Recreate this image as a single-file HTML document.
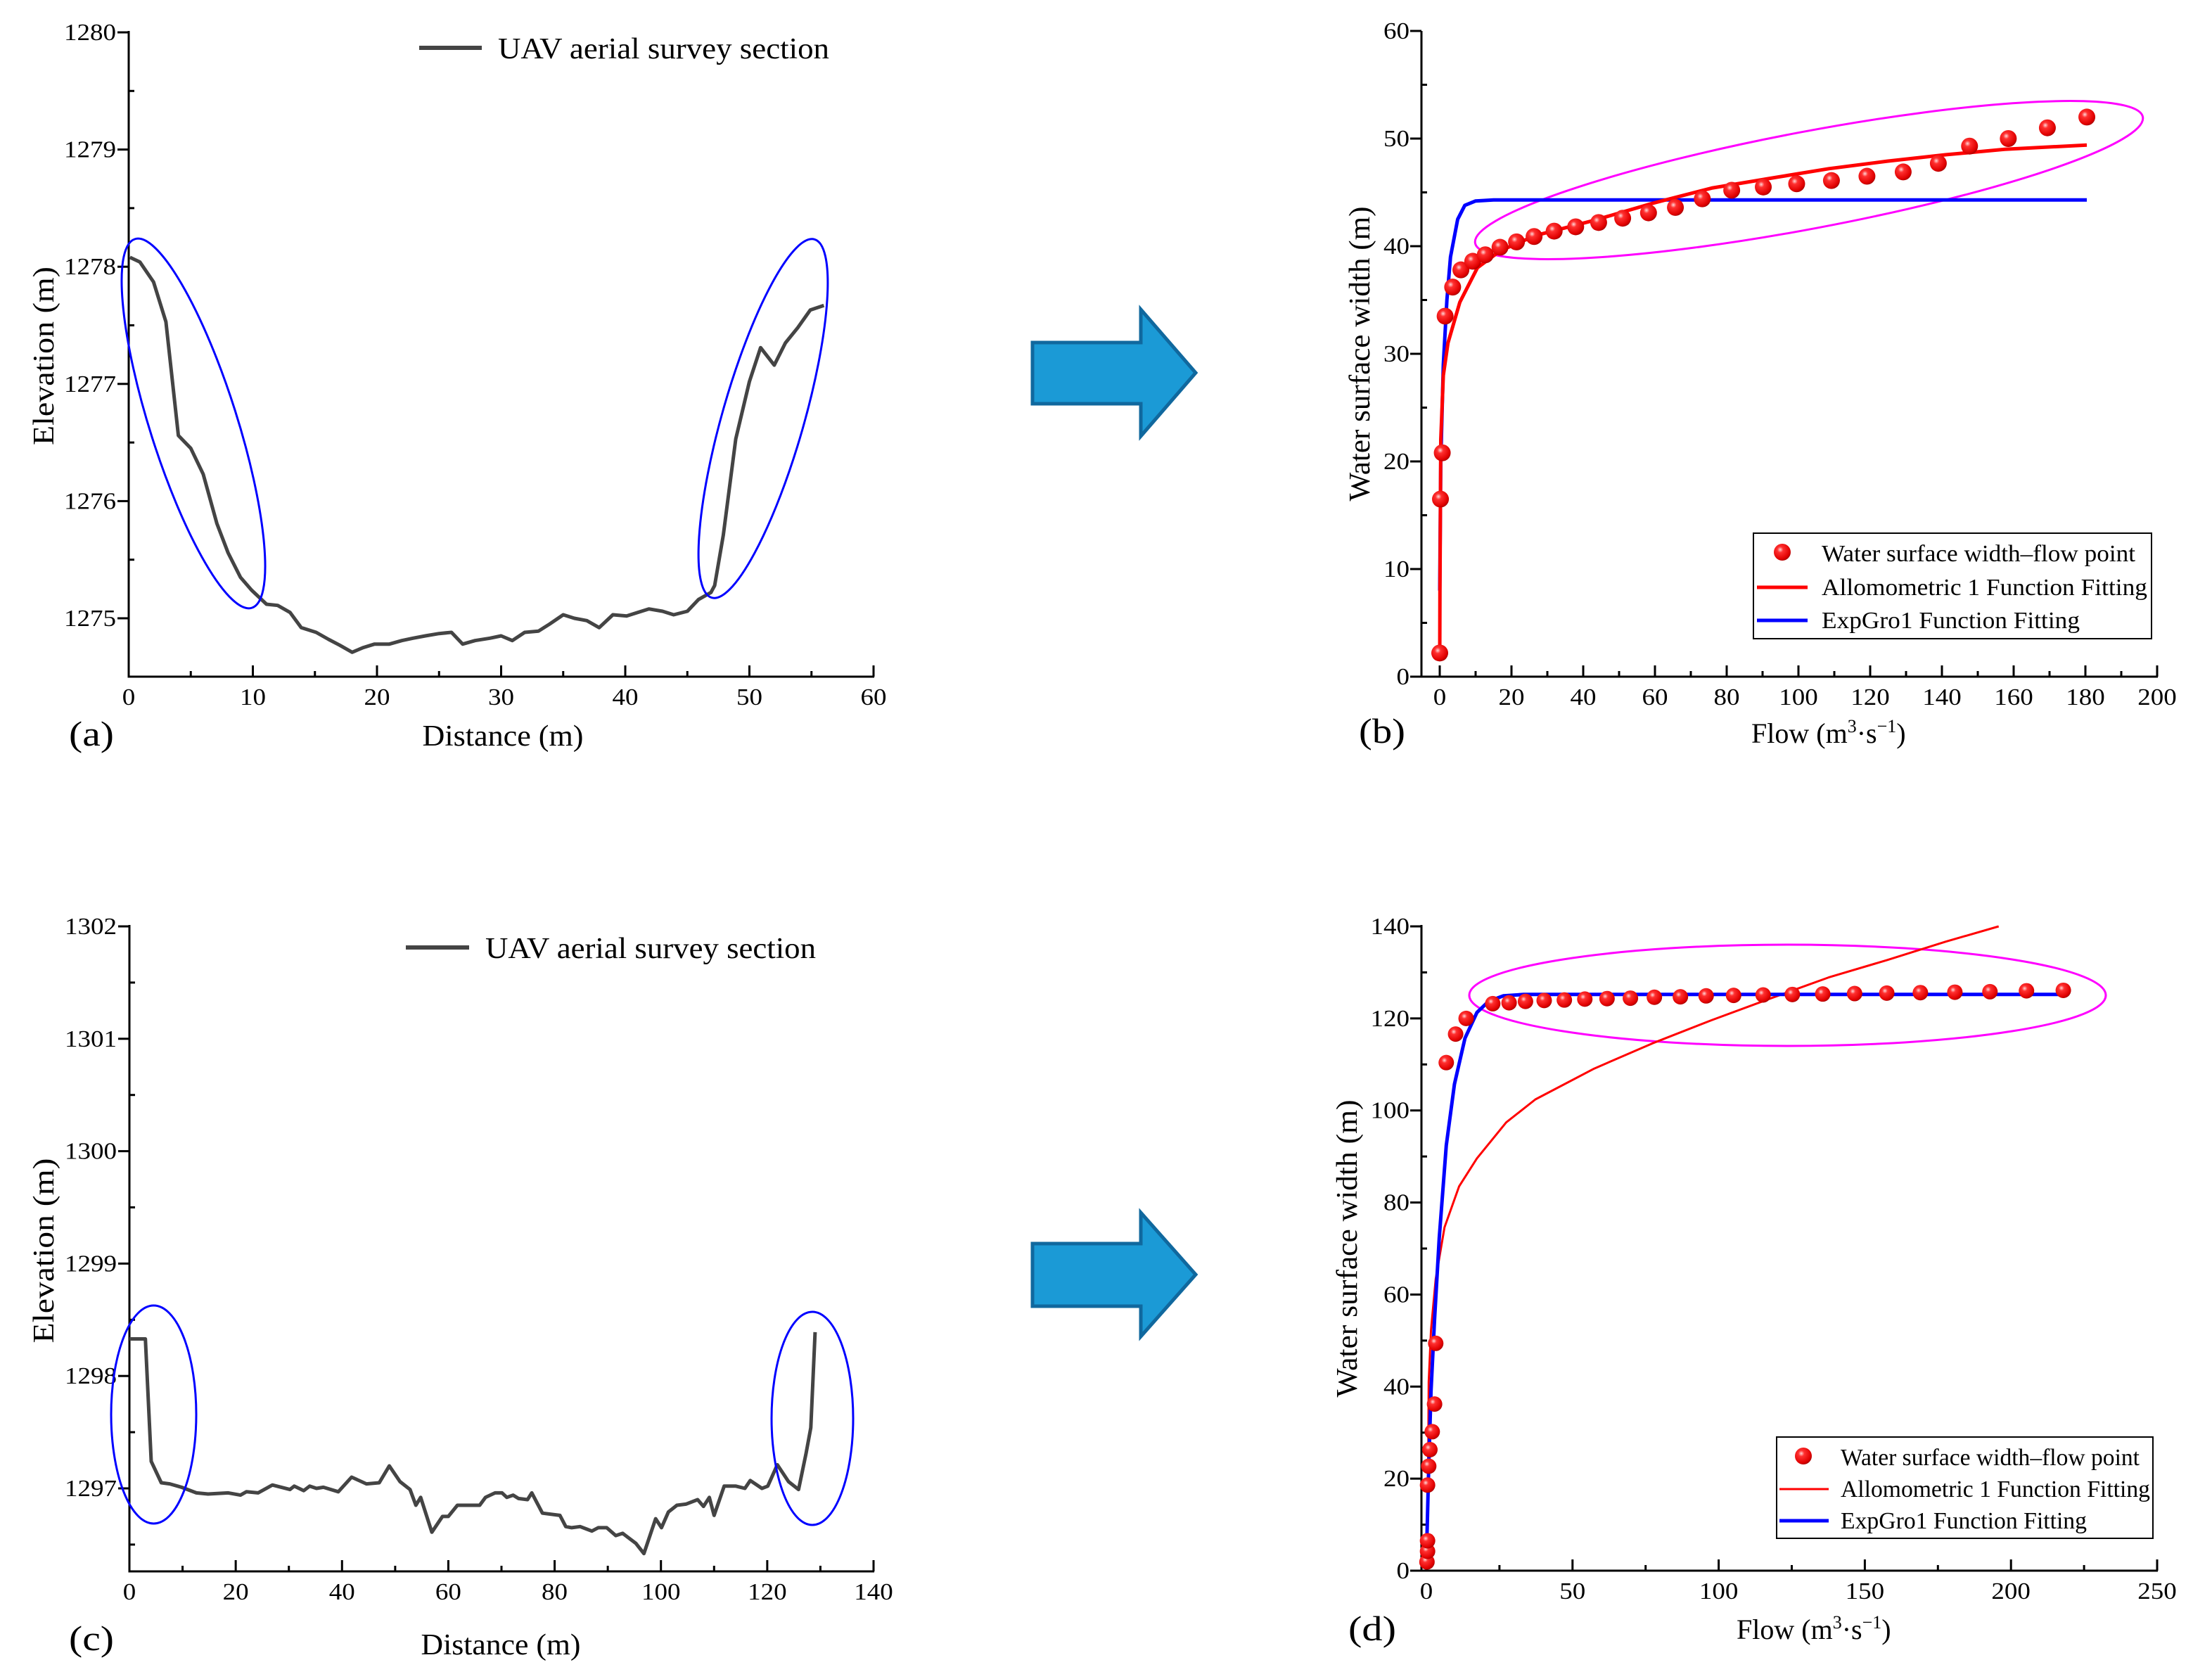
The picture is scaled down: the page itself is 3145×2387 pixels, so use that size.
<!DOCTYPE html>
<html><head><meta charset="utf-8">
<style>
html,body{margin:0;padding:0;background:#fff;}
svg{display:block;}
svg text{font-family:"Liberation Serif","Times New Roman",serif;fill:#000;}
</style></head>
<body>
<svg id="fig" width="3145" height="2387" viewBox="0 0 3145 2387" font-family="Liberation Serif, serif" xmlns="http://www.w3.org/2000/svg">
<defs>
<radialGradient id="ball" cx="0.38" cy="0.35" r="0.7">
<stop offset="0" stop-color="#ffd6d6"/>
<stop offset="0.25" stop-color="#ff3030"/>
<stop offset="0.8" stop-color="#e00000"/>
<stop offset="1" stop-color="#a00000"/>
</radialGradient>
</defs>
<g id="arrows">
<path d="M1468,487 L1622,487 L1622,440 L1700,530 L1622,620 L1622,574 L1468,574 Z" fill="#1b9ad6" stroke="#10689e" stroke-width="5" stroke-linejoin="miter"/>
<path d="M1468,1768 L1622,1768 L1622,1724 L1700,1812 L1622,1900 L1622,1857 L1468,1857 Z" fill="#1b9ad6" stroke="#10689e" stroke-width="5"/>
</g>
<g id="charts"></g>
</svg>
<script>
// ---------- Panel (a) data ----------
const aDist = [0.1,0.9,2,3,4,5,6,7.1,8,9,9.9,11.1,12,13,13.9,15.1,16.1,17,18,18.9,19.8,21,22,22.9,23.9,25,26,26.9,27.9,29.1,30,30.9,31.9,33,33.9,35,35.9,36.9,37.9,39,40.1,41,41.9,43,43.9,45,45.9,46.9,47.2,47.9,48.9,50,50.9,52,52.9,53.9,54.9,56];
const aElev = [1278.08,1278.04,1277.87,1277.53,1276.56,1276.45,1276.23,1275.81,1275.56,1275.35,1275.24,1275.12,1275.11,1275.05,1274.92,1274.88,1274.82,1274.77,1274.71,1274.75,1274.78,1274.78,1274.81,1274.83,1274.85,1274.87,1274.88,1274.78,1274.81,1274.83,1274.85,1274.81,1274.88,1274.89,1274.95,1275.03,1275.0,1274.98,1274.92,1275.03,1275.02,1275.05,1275.08,1275.06,1275.03,1275.06,1275.16,1275.22,1275.28,1275.71,1276.53,1277.02,1277.31,1277.16,1277.35,1277.48,1277.63,1277.67];
const aXTicks = [0,10,20,30,40,50,60];
const aYTicks = [1275,1276,1277,1278,1279,1280];

// ---------- Panel (b) data ----------
const bFlow = [0,0.2,0.7,1.5,3.6,5.9,9.2,12.7,16.8,21.4,26.3,31.9,37.9,44.3,51,58.2,65.7,73.2,81.4,90.2,99.5,109.2,119.1,129.2,139,147.7,158.5,169.4,180.4];
const bWidth = [2.2,16.5,20.8,33.5,36.2,37.8,38.6,39.2,39.9,40.4,40.9,41.4,41.8,42.2,42.6,43.1,43.6,44.4,45.2,45.5,45.8,46.1,46.5,46.9,47.7,49.3,50.0,51.0,52.0];
const bAlloX = [0,0.05,0.3,1,2.3,5.6,10.5,17,26.8,43,59.5,75.8,92,108.5,124.8,141,157.5,180.4];
const bAlloY = [1.5,8,22,28,31,34.8,38,39.6,41,42.4,44,45.4,46.3,47.2,47.9,48.5,49,49.4];
const bExpX = [0,0.3,1,2,3,5,7,10,15,180.4];
const bExpY = [8,20,29,35,39,42.5,43.8,44.2,44.3,44.3];
const bXTicks = [0,20,40,60,80,100,120,140,160,180,200];
const bYTicks = [0,10,20,30,40,50,60];

// ---------- Panel (c) data ----------
const cDist = [0,3,4.1,6,7.6,9.8,12.6,14.8,18.6,20.9,22,24.2,26.9,30.2,31,32.8,33.9,35.2,36.5,39.3,41.8,44.6,47,48.9,50.9,52.8,53.9,54.8,56.9,58.9,60,61.7,65.9,67,68.8,70.1,71,72.2,73.2,74.9,75.7,77.7,81,82.1,83.2,84.8,85.9,87,88.2,89.8,91.5,92.8,95.3,96.8,99,100.1,101.4,103,104.7,106.9,108,109.1,110,111.9,114.1,115.8,116.8,119,120.1,121.9,124,125.9,127.3,128.2,129];
const cElev = [1298.33,1298.33,1297.24,1297.05,1297.04,1297.01,1296.96,1296.95,1296.96,1296.94,1296.97,1296.96,1297.03,1296.99,1297.02,1296.98,1297.02,1297.0,1297.01,1296.97,1297.1,1297.04,1297.05,1297.2,1297.06,1296.99,1296.85,1296.92,1296.61,1296.75,1296.75,1296.85,1296.85,1296.92,1296.96,1296.96,1296.92,1296.94,1296.91,1296.9,1296.96,1296.78,1296.76,1296.66,1296.65,1296.66,1296.64,1296.62,1296.65,1296.65,1296.58,1296.6,1296.51,1296.42,1296.73,1296.65,1296.79,1296.85,1296.86,1296.9,1296.84,1296.92,1296.76,1297.02,1297.02,1297.0,1297.07,1297.0,1297.02,1297.21,1297.06,1296.99,1297.31,1297.54,1298.39];
const cXTicks = [0,20,40,60,80,100,120,140];
const cYTicks = [1297,1298,1299,1300,1301,1302];

// ---------- Panel (d) data ----------
const dFlow = [0.2,0.4,0.4,0.4,0.8,1.2,2,2.8,3.2,6.8,10,13.6,22.7,28.3,33.9,40.3,47.2,54.2,61.8,69.8,78,86.9,95.7,105.1,115.2,125.2,135.6,146.5,157.5,169,180.8,192.8,205.3,217.9];
const dWidth = [1.9,4.2,6.5,18.6,22.7,26.3,30.2,36.2,49.4,110.4,116.6,120,123.2,123.4,123.7,123.9,124,124.2,124.3,124.4,124.6,124.7,124.9,125,125.1,125.2,125.3,125.4,125.5,125.6,125.7,125.8,126,126.1];
const dAlloX = [0.4,0.8,1.6,3.2,6.2,11.2,17.3,27.3,37.3,57.4,77.4,97.5,117.6,137.6,157.7,177.8,195.8];
const dAlloY = [1,41,52.3,63.4,74.6,83.5,89.6,97.4,102.4,109.1,114.6,119.6,124.3,128.9,132.7,136.7,140];
const dExpX = [0,0.8,1.6,2.8,4.4,6.8,9.6,13.2,17.3,21.3,26.3,33.3,217.9];
const dExpY = [2.2,22.3,39,54.5,72.3,92.4,105.7,115.7,121.3,123.7,124.9,125.2,125.2];
const dXTicks = [0,50,100,150,200,250];
const dYTicks = [0,20,40,60,80,100,120,140];

const NS = "http://www.w3.org/2000/svg";
const FONT = '"Liberation Serif", "Times New Roman", serif';
const root = document.getElementById('charts');
function mk(tag, attrs, parent){
  const e = document.createElementNS(NS, tag);
  for (const k in attrs) e.setAttribute(k, attrs[k]);
  if (tag === 'text') e.style.fontFamily = FONT;
  (parent||root).appendChild(e);
  return e;
}
function scale(d0,d1,p0,p1){ return v => p0 + (v-d0)*(p1-p0)/(d1-d0); }
function pathOf(xs, ys, sx, sy){
  let d='';
  for (let i=0;i<xs.length;i++) d += (i?'L':'M') + sx(xs[i]).toFixed(1) + ',' + sy(ys[i]).toFixed(1);
  return d;
}

function axes(g, c){
  const ax = mk('line',{x1:c.left,y1:c.bottom,x2:c.right,y2:c.bottom,stroke:'#000','stroke-width':3},g);
  
  
  const ay = mk('line',{x1:c.left,y1:c.bottom+1.5,x2:c.left,y2:c.top,stroke:'#000','stroke-width':3},g);
  
  
  c.xTicks.forEach(v=>{
    const x=c.sx(v);
    mk('line',{x1:x,y1:c.bottom,x2:x,y2:c.bottom-16,stroke:'#000','stroke-width':3},g);
    const t = mk('text',{x:x,y:c.bottom+40,'text-anchor':'middle','font-size':34,textLength:String(v).length*18.5,lengthAdjust:'spacingAndGlyphs'},g);
    t.textContent = v;
    
    
  });
  c.xMinor.forEach(v=>{
    const x=c.sx(v);
    mk('line',{x1:x,y1:c.bottom,x2:x,y2:c.bottom-8,stroke:'#000','stroke-width':3},g);
  });
  c.yTicks.forEach(v=>{
    const y=c.sy(v);
    mk('line',{x1:c.left,y1:y,x2:c.left-16,y2:y,stroke:'#000','stroke-width':3},g);
    const t = mk('text',{x:c.left-c.lblGap,y:y+11,'text-anchor':'end','font-size':34,textLength:String(v).length*18.5,lengthAdjust:'spacingAndGlyphs'},g);
    t.textContent = v;
    
    
  });
  c.yMinor.forEach(v=>{
    const y=c.sy(v);
    mk('line',{x1:c.left,y1:y,x2:c.left+8,y2:y,stroke:'#000','stroke-width':3},g);
  });
}
function text(g, s, attrs, name){
  const t = mk('text', attrs, g);
  t.textContent = s;
  
  
  return t;
}
function flowTitle(g, cx, y, w){
  const t = mk('text',{x:cx-w/2,y:y,'font-size':40},g);
  
  
  t.appendChild(document.createTextNode('Flow (m'));
  const s1 = mk('tspan',{dy:-15,'font-size':26},t); s1.textContent='3';
  const s2 = mk('tspan',{dy:15},t); s2.textContent='·s';
  const s3 = mk('tspan',{dy:-15,'font-size':26},t); s3.textContent='−1';
  const s4 = mk('tspan',{dy:15},t); s4.textContent=')';
}
function legendBox(g, x0,y0,x1,y1, mx, lx0, lx1, tx, bl, widths, allWidth){
  const box = mk('rect',{x:x0,y:y0,width:x1-x0,height:y1-y0,fill:'#fff',stroke:'#000','stroke-width':2},g);
  
  
  const m = mk('circle',{cx:mx,cy:bl[0]-13,r:12,fill:'url(#ball)'},g);
  
  
  const l1 = mk('line',{x1:lx0,y1:bl[1]-11,x2:lx1,y2:bl[1]-11,stroke:'#ff0000','stroke-width':allWidth},g);
  
  
  const l2 = mk('line',{x1:lx0,y1:bl[2]-11,x2:lx1,y2:bl[2]-11,stroke:'#0000ff','stroke-width':5},g);
  
  
  text(g,'Water surface width–flow point',{x:tx,y:bl[0],'font-size':34,textLength:widths[0],lengthAdjust:'spacingAndGlyphs'},'legend-entry-points');
  text(g,'Allomometric 1 Function Fitting',{x:tx,y:bl[1],'font-size':34,textLength:widths[1],lengthAdjust:'spacingAndGlyphs'},'legend-entry-allometric');
  text(g,'ExpGro1 Function Fitting',{x:tx,y:bl[2],'font-size':34,textLength:widths[2],lengthAdjust:'spacingAndGlyphs'},'legend-entry-expgro');
}
function range(a,b,s){const r=[];for(let v=a;v<=b+1e-9;v+=s)r.push(+v.toFixed(3));return r;}

// ===== Panel (a) =====
(function(){
  const g = mk('g',{});  
  const sx = scale(0,60,183,1242), sy = scale(1275,1280,879,46);
  axes(g,{left:183,right:1243,bottom:962,top:44,sx,sy,xTicks:aXTicks,yTicks:aYTicks,xMinor:range(5,55,10),yMinor:range(1275.5,1279.5,1),lblGap:18});
  const p = mk('path',{d:pathOf(aDist,aElev,sx,sy),fill:'none',stroke:'#444','stroke-width':5,'stroke-linejoin':'round'},g);
  
  
  const e1 = mk('ellipse',{cx:275,cy:602,rx:62,ry:275,fill:'none',stroke:'#0000ff','stroke-width':3,transform:'rotate(-17.6 275 602)'},g);
  
  
  const e2 = mk('ellipse',{cx:1085,cy:595,rx:58,ry:265,fill:'none',stroke:'#0000ff','stroke-width':3,transform:'rotate(16 1085 595)'},g);
  
  
  const ll = mk('line',{x1:596,y1:68,x2:685,y2:68,stroke:'#444','stroke-width':6},g);
  
  
  text(g,'UAV aerial survey section',{x:708,y:83,'font-size':42,textLength:471,lengthAdjust:'spacingAndGlyphs'},'legend-entry');
  text(g,'Distance (m)',{x:715,y:1060,'font-size':42,'text-anchor':'middle',textLength:229,lengthAdjust:'spacingAndGlyphs'},'x-axis-title');
  text(g,'Elevation (m)',{x:0,y:0,'font-size':42,'text-anchor':'middle',textLength:254,lengthAdjust:'spacingAndGlyphs',transform:'translate(76,506) rotate(-90)'},'y-axis-title');
  text(g,'(a)',{x:98,y:1060,'font-size':50,textLength:64,lengthAdjust:'spacingAndGlyphs'},'panel-label-a');
})();

// ===== Panel (b) =====
(function(){
  const g = mk('g',{});  
  const sx = scale(0,200,2047,3067), sy = scale(0,60,962,44);
  axes(g,{left:2021,right:3068,bottom:962,top:44,sx,sy,xTicks:bXTicks,yTicks:bYTicks,xMinor:range(10,190,20),yMinor:range(5,55,10),lblGap:17});
  const el = mk('ellipse',{cx:2572,cy:256,rx:483,ry:69,fill:'none',stroke:'#ff00ff','stroke-width':3,transform:'rotate(-10.7 2572 256)'},g);
  
  
  const pe = mk('path',{d:pathOf(bExpX,bExpY,sx,sy),fill:'none',stroke:'#0000ff','stroke-width':5,'stroke-linejoin':'round'},g);
  
  
  const pa = mk('path',{d:pathOf(bAlloX,bAlloY,sx,sy),fill:'none',stroke:'#ff0000','stroke-width':5,'stroke-linejoin':'round'},g);
  
  
  bFlow.forEach((v,i)=>{
    const c = mk('circle',{cx:sx(v),cy:sy(bWidth[i]),r:12,fill:'url(#ball)'},g);
    
    
  });
  legendBox(g,2493,758,3059,908,2534,2498,2570,2590,[798,846,893],[446,463,367],5);
  flowTitle(g,2596,1056,212);
  text(g,'Water surface width (m)',{x:0,y:0,'font-size':42,'text-anchor':'middle',textLength:419,lengthAdjust:'spacingAndGlyphs',transform:'translate(1947,503) rotate(-90)'},'y-axis-title');
  text(g,'(b)',{x:1932,y:1056,'font-size':50,textLength:66,lengthAdjust:'spacingAndGlyphs'},'panel-label-b');
})();

// ===== Panel (c) =====
(function(){
  const g = mk('g',{});  
  const sx = scale(0,140,184,1242), sy = scale(1297,1302,2116,1317);
  axes(g,{left:184,right:1243,bottom:2234,top:1315,sx,sy,xTicks:cXTicks,yTicks:cYTicks,xMinor:range(10,130,20),yMinor:range(1296.5,1301.5,1),lblGap:18});
  const p = mk('path',{d:pathOf(cDist,cElev,sx,sy),fill:'none',stroke:'#444','stroke-width':5,'stroke-linejoin':'round'},g);
  
  
  const e1 = mk('ellipse',{cx:218.5,cy:2011,rx:60.5,ry:155,fill:'none',stroke:'#0000ff','stroke-width':3},g);
  
  
  const e2 = mk('ellipse',{cx:1155,cy:2016.5,rx:58,ry:151.5,fill:'none',stroke:'#0000ff','stroke-width':3},g);
  
  
  const ll = mk('line',{x1:577,y1:1347,x2:667,y2:1347,stroke:'#444','stroke-width':6},g);
  
  
  text(g,'UAV aerial survey section',{x:690,y:1362,'font-size':42,textLength:470,lengthAdjust:'spacingAndGlyphs'},'legend-entry');
  text(g,'Distance (m)',{x:712,y:2352,'font-size':42,'text-anchor':'middle',textLength:227,lengthAdjust:'spacingAndGlyphs'},'x-axis-title');
  text(g,'Elevation (m)',{x:0,y:0,'font-size':42,'text-anchor':'middle',textLength:263,lengthAdjust:'spacingAndGlyphs',transform:'translate(76,1778) rotate(-90)'},'y-axis-title');
  text(g,'(c)',{x:98,y:2346,'font-size':50,textLength:64,lengthAdjust:'spacingAndGlyphs'},'panel-label-c');
})();

// ===== Panel (d) =====
(function(){
  const g = mk('g',{});  
  const sx = scale(0,250,2028,3067), sy = scale(0,140,2233,1317);
  axes(g,{left:2021,right:3068,bottom:2233,top:1315,sx,sy,xTicks:dXTicks,yTicks:dYTicks,xMinor:range(25,225,50),yMinor:range(10,130,20),lblGap:17});
  const el = mk('ellipse',{cx:2541.5,cy:1415,rx:452.5,ry:72,fill:'none',stroke:'#ff00ff','stroke-width':3},g);
  
  
  const pa = mk('path',{d:pathOf(dAlloX,dAlloY,sx,sy),fill:'none',stroke:'#ff0000','stroke-width':3,'stroke-linejoin':'round'},g);
  
  
  const pe = mk('path',{d:pathOf(dExpX,dExpY,sx,sy),fill:'none',stroke:'#0000ff','stroke-width':5,'stroke-linejoin':'round'},g);
  
  
  dFlow.forEach((v,i)=>{
    const c = mk('circle',{cx:sx(v),cy:sy(dWidth[i]),r:11,fill:'url(#ball)'},g);
    
    
  });
  legendBox(g,2526,2043,3061,2187,2564,2530,2600,2617,[2083,2128,2173],[425,440,350],3);
  flowTitle(g,2575,2330,212);
  text(g,'Water surface width (m)',{x:0,y:0,'font-size':42,'text-anchor':'middle',textLength:423,lengthAdjust:'spacingAndGlyphs',transform:'translate(1929,1775) rotate(-90)'},'y-axis-title');
  text(g,'(d)',{x:1917,y:2332,'font-size':50,textLength:68,lengthAdjust:'spacingAndGlyphs'},'panel-label-d');
})();
</script>
</body></html>
